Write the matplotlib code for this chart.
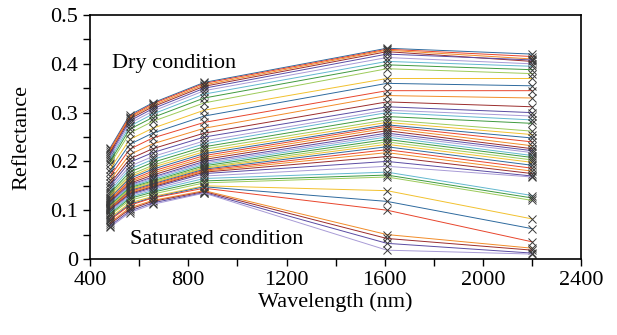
import matplotlib
matplotlib.use('Agg')
import matplotlib.pyplot as plt
from matplotlib.ticker import MultipleLocator

# Landsat band centres (nm)
wavelengths = [482, 561, 655, 865, 1609, 2201]

# reflectance spectra, dry (top) to saturated (bottom)
spectra = [
    [0.228, 0.295, 0.320, 0.362, 0.432, 0.420],
    [0.225, 0.292, 0.318, 0.360, 0.430, 0.415],
    [0.222, 0.290, 0.315, 0.357, 0.428, 0.410],
    [0.218, 0.287, 0.312, 0.354, 0.425, 0.405],
    [0.214, 0.283, 0.308, 0.350, 0.420, 0.408],
    [0.210, 0.278, 0.303, 0.345, 0.413, 0.400],
    [0.205, 0.272, 0.297, 0.338, 0.405, 0.395],
    [0.200, 0.266, 0.290, 0.330, 0.398, 0.388],
    [0.195, 0.258, 0.282, 0.320, 0.390, 0.380],
    [0.185, 0.245, 0.268, 0.305, 0.370, 0.370],
    [0.178, 0.235, 0.258, 0.293, 0.360, 0.355],
    [0.170, 0.225, 0.248, 0.280, 0.345, 0.345],
    [0.162, 0.214, 0.236, 0.268, 0.335, 0.330],
    [0.155, 0.205, 0.226, 0.258, 0.322, 0.312],
    [0.150, 0.198, 0.218, 0.250, 0.312, 0.300],
    [0.145, 0.190, 0.210, 0.242, 0.305, 0.293],
    [0.140, 0.184, 0.204, 0.236, 0.300, 0.285],
    [0.135, 0.178, 0.198, 0.230, 0.292, 0.278],
    [0.132, 0.172, 0.192, 0.225, 0.285, 0.262],
    [0.128, 0.168, 0.188, 0.220, 0.280, 0.255],
    [0.125, 0.165, 0.184, 0.216, 0.275, 0.248],
    [0.122, 0.161, 0.180, 0.212, 0.272, 0.240],
    [0.120, 0.158, 0.176, 0.208, 0.268, 0.232],
    [0.118, 0.155, 0.172, 0.204, 0.263, 0.226],
    [0.116, 0.152, 0.168, 0.200, 0.258, 0.222],
    [0.114, 0.150, 0.166, 0.197, 0.254, 0.218],
    [0.112, 0.148, 0.163, 0.194, 0.250, 0.212],
    [0.110, 0.146, 0.160, 0.191, 0.245, 0.208],
    [0.108, 0.144, 0.158, 0.188, 0.240, 0.203],
    [0.107, 0.142, 0.156, 0.186, 0.235, 0.198],
    [0.105, 0.140, 0.154, 0.184, 0.230, 0.192],
    [0.104, 0.138, 0.152, 0.182, 0.224, 0.186],
    [0.103, 0.136, 0.150, 0.180, 0.218, 0.180],
    [0.102, 0.134, 0.148, 0.178, 0.210, 0.175],
    [0.100, 0.132, 0.146, 0.175, 0.200, 0.170],
    [0.098, 0.130, 0.143, 0.170, 0.190, 0.168],
    [0.095, 0.127, 0.140, 0.165, 0.178, 0.130],
    [0.092, 0.124, 0.137, 0.160, 0.172, 0.125],
    [0.090, 0.120, 0.133, 0.156, 0.168, 0.120],
    [0.085, 0.115, 0.128, 0.150, 0.140, 0.082],
    [0.082, 0.112, 0.126, 0.148, 0.118, 0.062],
    [0.080, 0.110, 0.125, 0.145, 0.100, 0.035],
    [0.075, 0.105, 0.120, 0.140, 0.050, 0.022],
    [0.072, 0.102, 0.118, 0.138, 0.042, 0.018],
    [0.068, 0.098, 0.115, 0.136, 0.032, 0.012],
    [0.065, 0.095, 0.112, 0.135, 0.018, 0.010],
]

colors = ['#2e6a9e', '#e8452c', '#f28c28', '#9b2d2d', '#5b4ca3',
          '#a89bd6', '#62b8cf', '#3f9a3f', '#9dcb5a', '#f2c12e']

plt.rcParams['font.family'] = ['Liberation Serif', 'DejaVu Serif']
plt.rcParams['font.size'] = 16

fig = plt.figure(figsize=(6.17, 3.35), dpi=100)
ax = fig.add_axes([0.146, 0.227, 0.796, 0.728])

for i, s in enumerate(spectra):
    ax.plot(wavelengths, s, color=colors[i % len(colors)], lw=0.7,
            marker='x', ms=6, mec='#3a3a3a', mew=0.7)

ax.set_xlim(400, 2400)
ax.set_ylim(0, 0.5)
ax.xaxis.set_major_locator(MultipleLocator(400))
ax.xaxis.set_minor_locator(MultipleLocator(200))
ax.yaxis.set_minor_locator(MultipleLocator(0.05))
ax.set_yticks([0, 0.1, 0.2, 0.3, 0.4, 0.5])
ax.set_yticklabels(['0', '0.1', '0.2', '0.3', '0.4', '0.5'])
ax.tick_params(which='both', direction='out', length=5, width=1)
for sp in ax.spines.values():
    sp.set_linewidth(1.2)

ax.set_xlabel('Wavelength (nm)', labelpad=2)
ax.set_ylabel('Reflectance', labelpad=14)
ax.text(490, 0.40, 'Dry condition', va='center', ha='left')
ax.text(563, 0.04, 'Saturated condition', va='center', ha='left')

fig.savefig('out.png', dpi=100)
